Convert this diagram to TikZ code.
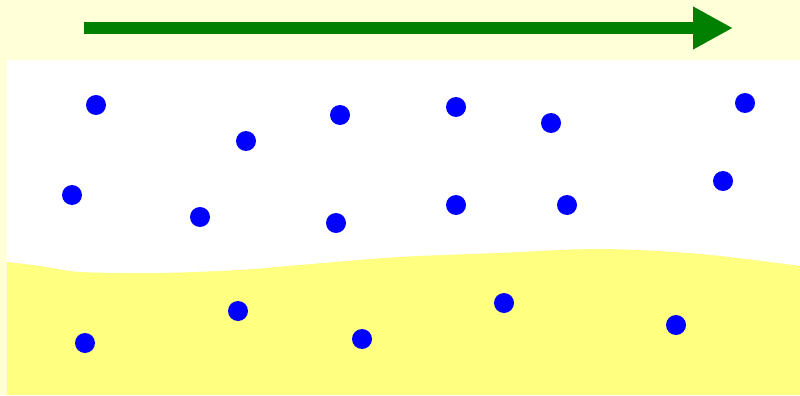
\documentclass[tikz,border=0pt]{standalone}
\usepackage{tikz}
\usetikzlibrary{arrows.meta}
\usepackage{xcolor}
\definecolor{bgCream}{HTML}{FFFFD8}
\definecolor{sandYel}{HTML}{FFFF80}
\definecolor{flowGreen}{HTML}{008000}
\definecolor{dotBlue}{HTML}{0000FF}

\begin{document}
\begin{tikzpicture}[
      x=0.02cm, y=-0.02cm,
      flow/.style={draw=flowGreen, line width=0.26cm,
                   -{Triangle[length=0.8cm, width=0.8cm]}},
      water/.style={fill=white},
      sand/.style={fill=sandYel},
      grain/.style={fill=dotBlue},
    ]

    % ---------- fondo ----------
    \fill[bgCream] (0,0) rectangle (800,395);
    \useasboundingbox (0,0) rectangle (800,395);

    % ---------- agua (blanco) y fondo arenoso (amarillo) ----------
    \fill[water] (7,60) -- (800,60)
      -- plot[smooth] coordinates {(800,266) (700,254) (600,249) (500,253) (400,257)
                                   (300,265) (240,270) (160,273) (80,272) (40,266) (7,262)}
      -- cycle;
    \fill[sand] (7,395)
      -- plot[smooth] coordinates {(7,262) (40,266) (80,272) (160,273) (240,270) (300,265)
                                   (400,257) (500,253) (600,249) (700,254) (800,266)}
      -- (800,395) -- cycle;

    % ---------- corriente ----------
    \coordinate (start) at (84,28);
    \coordinate (tip)   at (733,28);
    \draw[flow] (start) -- (tip);

    % ---------- particulas ----------
    \foreach \px/\py in {96/105, 246/141, 340/115, 456/107, 551/123, 745/103,
                         72/195, 200/217, 336/223, 456/205, 567/205, 723/181,
                         85/343, 238/311, 362/339, 504/303, 676/325}
      \fill[grain] (\px,\py) circle[radius=2mm];

  \end{tikzpicture}
\end{document}
